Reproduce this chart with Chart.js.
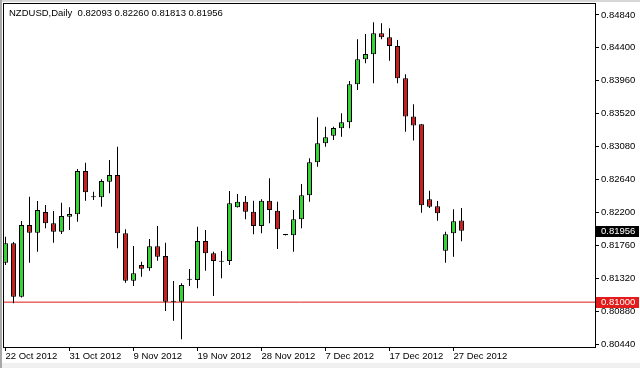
<!DOCTYPE html>
<html>
<head>
<meta charset="utf-8">
<script src="https://cdn.jsdelivr.net/npm/chart.js@4/dist/chart.umd.min.js"></script>
<style>
  html, body { margin: 0; padding: 0; background: #fff; }
  canvas { display: block; }
</style>
</head>
<body>
<canvas id="chart" width="640" height="368"></canvas>
<script>
// header line shown in the top-left corner
const title = 'NZDUSD,Daily  0.82093 0.82260 0.81813 0.81956'

// daily bars, 22 Oct 2012 .. 28 Dec 2012 (one per bar index)
const opens = [0.81527, 0.81787, 0.81073, 0.82031, 0.81928, 0.82205, 0.82054, 0.81942, 0.82142, 0.82175,
  0.82754, 0.82402, 0.82402, 0.82610, 0.82700, 0.81920, 0.81287, 0.81497, 0.81452, 0.81747,
  0.81617, 0.81006, 0.81006, 0.81300, 0.81296, 0.81817, 0.81653, 0.81541, 0.81550, 0.82268,
  0.82343, 0.82209, 0.82018, 0.82356, 0.82223, 0.81898, 0.81894, 0.82108, 0.82429, 0.82870,
  0.83124, 0.83225, 0.83325, 0.83405, 0.83913, 0.84247, 0.84314, 0.84595, 0.84541, 0.84425,
  0.83993, 0.83482, 0.83379, 0.82375, 0.82281, 0.81688, 0.81920, 0.82093]
const highs = [0.81875, 0.81804, 0.82085, 0.82410, 0.82352, 0.82299, 0.82219, 0.82330, 0.82268, 0.82780,
  0.82865, 0.82477, 0.82643, 0.82901, 0.83078, 0.81974, 0.81751, 0.81541, 0.81844, 0.82018,
  0.81795, 0.81283, 0.81252, 0.81443, 0.82009, 0.81965, 0.81674, 0.81684, 0.82486, 0.82446,
  0.82419, 0.82356, 0.82375, 0.82656, 0.82343, 0.81905, 0.82232, 0.82580, 0.82923, 0.83472,
  0.83346, 0.83346, 0.83525, 0.83957, 0.84515, 0.84585, 0.84742, 0.84729, 0.84662, 0.84505,
  0.84047, 0.83647, 0.83382, 0.82490, 0.82352, 0.81942, 0.82241, 0.82260]
const lows = [0.81497, 0.80984, 0.81062, 0.81527, 0.81674, 0.81987, 0.81795, 0.81911, 0.81965, 0.82076,
  0.82356, 0.82366, 0.82276, 0.82455, 0.81720, 0.81260, 0.81216, 0.81340, 0.81420, 0.81554,
  0.80881, 0.80752, 0.80503, 0.81216, 0.81185, 0.81420, 0.81082, 0.81319, 0.81497, 0.82265,
  0.82108, 0.81907, 0.81920, 0.82054, 0.81711, 0.81892, 0.81674, 0.81987, 0.82343, 0.82811,
  0.83078, 0.83168, 0.83212, 0.83325, 0.83837, 0.84194, 0.83926, 0.84515, 0.84228, 0.83926,
  0.83279, 0.83161, 0.82196, 0.82259, 0.82089, 0.81527, 0.81608, 0.81813]
const closes = [0.81787, 0.81073, 0.82031, 0.81928, 0.82232, 0.82054, 0.81942, 0.82152, 0.82179, 0.82754,
  0.82469, 0.82402, 0.82620, 0.82700, 0.81920, 0.81287, 0.81386, 0.81447, 0.81747, 0.81608,
  0.81006, 0.81006, 0.81229, 0.81300, 0.81817, 0.81653, 0.81550, 0.81541, 0.82322, 0.82343,
  0.82209, 0.82018, 0.82356, 0.82232, 0.81974, 0.81898, 0.82108, 0.82429, 0.82870, 0.83124,
  0.83204, 0.83329, 0.83405, 0.83913, 0.84247, 0.84318, 0.84595, 0.84541, 0.84425, 0.83993,
  0.83482, 0.83362, 0.82295, 0.82276, 0.82188, 0.81907, 0.82081, 0.81956]

// x axis labels and the bar they sit on
const dateLabels = ['22 Oct 2012', '31 Oct 2012', '9 Nov 2012', '19 Nov 2012', '28 Nov 2012', '7 Dec 2012', '17 Dec 2012', '27 Dec 2012']
const dateBars = [0, 8, 16, 24, 32, 40, 48, 56]

// price axis labels
const priceTicks = [0.80440, 0.80880, 0.81320, 0.81760, 0.82200, 0.82640, 0.83080, 0.83520, 0.83960, 0.84400, 0.84840]

// horizontal level line and last price
const levelPrice = 0.81000
const lastPrice = closes[closes.length - 1]

const bullColor = '#36d236'
const bearColor = '#c8201e'
const font = { family: '"Liberation Sans", Arial, sans-serif', size: 9.5 }

const xMin = -0.3125
const xMax = 73.8125

const wicks = lows.map((l, i) => ({ x: i, y: [l, highs[i]] }))
const bodies = opens.map((o, i) => ({ x: i, y: [Math.min(o, closes[i]), Math.max(o, closes[i])] }))
const bodyColors = opens.map((o, i) => closes[i] > o ? bullColor : bearColor)

// frame, header text, price boxes
const decor = {
    id: 'decor',
    beforeDraw(chart) {
        const c = chart.ctx
        c.save()
        c.fillStyle = '#fff'
        c.fillRect(0, 0, chart.width, chart.height)
        c.fillStyle = '#f0f0f0'
        c.fillRect(0, 363, chart.width, 5)
        c.fillStyle = '#d6d6d6'
        c.fillRect(0, 0, chart.width, 2)
        c.fillStyle = '#a8a8a8'
        c.fillRect(0, 0, 2, chart.height)
        c.restore()
    },
    afterDraw(chart) {
        const c = chart.ctx
        const a = chart.chartArea
        const y = chart.scales.y
        c.save()
        c.strokeStyle = '#000'
        c.lineWidth = 1
        c.strokeRect(a.left + 0.5, a.top + 0.5, a.right - a.left - 1, a.bottom - a.top - 1)

        c.font = font.size + 'px ' + font.family
        c.fillStyle = '#000'
        c.textBaseline = 'middle'
        c.textAlign = 'left'
        c.fillText(title, 9, 13)

        const box = (v, bg) => {
            const py = Math.round(y.getPixelForValue(v))
            c.fillStyle = bg
            c.fillRect(a.right, py - 5, 43, 11)
            c.fillStyle = '#fff'
            c.fillText(v.toFixed(5), a.right + 5, py + 0.5)
        }
        box(lastPrice, '#000')
        box(levelPrice, '#e31b1b')
        c.restore()
    }
}

const chart = new Chart(document.querySelector('#chart').getContext('2d'), {
    type: 'bar',
    data: {
        datasets: [
            {
                type: 'line',
                data: [{ x: xMin, y: levelPrice }, { x: xMax, y: levelPrice }],
                borderColor: '#e01818',
                borderWidth: 1,
                pointRadius: 0,
                order: 3
            },
            {
                data: wicks,
                backgroundColor: '#000',
                borderWidth: 0,
                barThickness: 1,
                minBarLength: 1,
                inflateAmount: 0,
                grouped: false,
                order: 2
            },
            {
                data: bodies,
                backgroundColor: bodyColors,
                borderColor: '#000',
                borderWidth: 1,
                borderSkipped: false,
                barThickness: 5,
                minBarLength: 1,
                inflateAmount: 0,
                grouped: false,
                order: 1
            }
        ]
    },
    options: {
        responsive: false,
        animation: false,
        devicePixelRatio: 1,
        layout: { padding: { left: 3, top: 3, right: 0, bottom: 0 }, autoPadding: false },
        plugins: { legend: { display: false }, tooltip: { enabled: false } },
        scales: {
            x: {
                type: 'linear',
                position: 'bottom',
                min: xMin,
                max: xMax,
                offset: false,
                grid: { display: true, drawOnChartArea: false, drawTicks: true, tickLength: 3, color: '#000', offset: false },
                border: { display: false },
                ticks: {
                    color: '#000',
                    font: font,
                    padding: 0,
                    align: 'start',
                    maxRotation: 0,
                    autoSkip: false,
                    callback: v => dateLabels[dateBars.indexOf(v)]
                },
                afterBuildTicks: s => { s.ticks = dateBars.map(v => ({ value: v })) },
                afterFit: s => { s.height = 20; s.paddingLeft = 0; s.paddingRight = 0 }
            },
            y: {
                type: 'linear',
                position: 'right',
                min: 0.80387,
                max: 0.85000,
                grid: { display: true, drawOnChartArea: false, drawTicks: true, tickLength: 3, color: '#000' },
                border: { display: false },
                ticks: {
                    color: '#000',
                    font: font,
                    padding: 2,
                    autoSkip: false,
                    callback: v => v.toFixed(5)
                },
                afterBuildTicks: s => { s.ticks = priceTicks.map(v => ({ value: v })) },
                afterFit: s => { s.width = 44; s.paddingTop = 0; s.paddingBottom = 0 }
            }
        }
    },
    plugins: [decor]
})
</script>
</body>
</html>
